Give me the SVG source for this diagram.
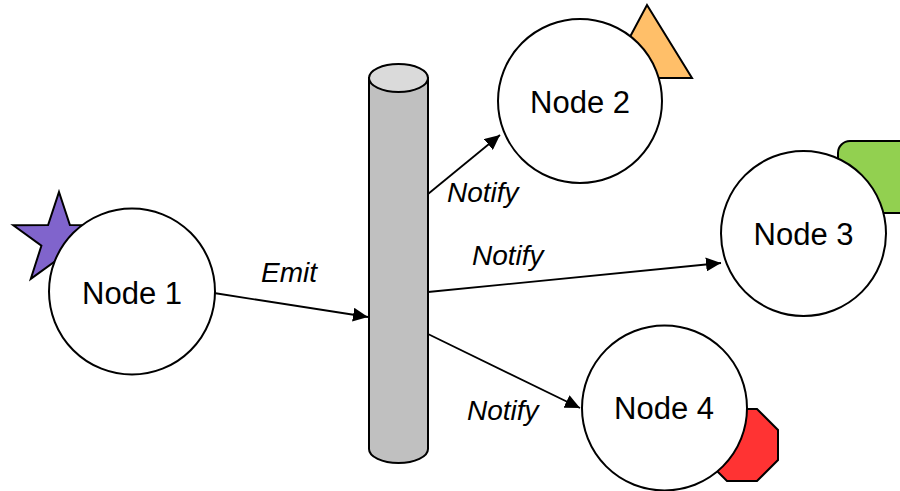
<svg xmlns="http://www.w3.org/2000/svg" width="900" height="491" viewBox="0 0 900 491">
  <defs>
    <style>
      .node { fill: #ffffff; stroke: #000000; stroke-width: 2; }
      .label { font-family: "Liberation Sans", Arial, sans-serif; font-size: 31px; fill: #000000; text-anchor: middle; }
      .edge { fill: none; stroke: #000000; stroke-width: 1.8; marker-end: url(#arrow); }
      .edge-label { font-family: "Liberation Sans", Arial, sans-serif; font-size: 28px; font-style: italic; fill: #000000; }
      .deco { stroke: #000000; stroke-width: 2; stroke-linejoin: miter; }
    </style>
    <marker id="arrow" markerUnits="userSpaceOnUse" markerWidth="16" markerHeight="14" refX="15" refY="7" orient="auto">
      <path d="M0,0 L15,7 L0,14 Z" fill="#000000"/>
    </marker>
  </defs>

  <rect width="900" height="491" fill="#ffffff"/>

  <!-- event bus cylinder -->
  <g id="bus">
    <path d="M369,78 L369,449 A29.5,14 0 0 0 428,449 L428,78 Z" fill="#c0c0c0" stroke="#000000" stroke-width="2"/>
    <ellipse cx="398.5" cy="78" rx="29.5" ry="14" fill="#dadada" stroke="#000000" stroke-width="2"/>
  </g>

  <!-- connectors -->
  <g id="connectors">
    <line class="edge" x1="214" y1="293" x2="368" y2="317"/>
    <line class="edge" x1="428" y1="194" x2="500" y2="135"/>
    <line class="edge" x1="428" y1="292" x2="721" y2="263"/>
    <line class="edge" x1="428" y1="334" x2="580" y2="408"/>
    <text class="edge-label" x="261" y="282">Emit</text>
    <text class="edge-label" x="447" y="202">Notify</text>
    <text class="edge-label" x="472" y="265">Notify</text>
    <text class="edge-label" x="467" y="420">Notify</text>
  </g>

  <!-- Node 1 with star badge -->
  <g id="node1">
    <polygon class="deco" fill="#8064cc" points="59,192 69.9,225 104.7,225.2 76.6,245.7 87.2,278.8 59,258.5 30.8,278.8 41.4,245.7 13.3,225.2 48.1,225"/>
    <circle class="node" cx="132" cy="291.5" r="83"/>
    <text class="label" x="132" y="303.5">Node 1</text>
  </g>

  <!-- Node 2 with triangle badge -->
  <g id="node2">
    <polygon class="deco" fill="#ffbf69" points="647,5 692,78 608,78"/>
    <circle class="node" cx="580" cy="101" r="82"/>
    <text class="label" x="580" y="112.5">Node 2</text>
  </g>

  <!-- Node 3 with rounded tab badge -->
  <g id="node3">
    <rect class="deco" fill="#92d050" x="838" y="141" width="90" height="72" rx="12" ry="12"/>
    <circle class="node" cx="803.5" cy="233.5" r="82.5"/>
    <text class="label" x="803.5" y="245">Node 3</text>
  </g>

  <!-- Node 4 with octagon badge -->
  <g id="node4">
    <polygon class="deco" fill="#ff3333" points="727,409 757,409 778,430 778,460 757,481 727,481 706,460 706,430"/>
    <circle class="node" cx="664.5" cy="408" r="82.5"/>
    <text class="label" x="664" y="419">Node 4</text>
  </g>
</svg>
